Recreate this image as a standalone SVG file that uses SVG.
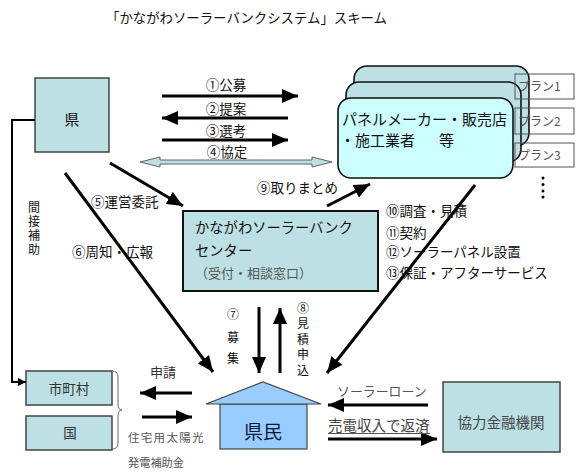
<svg xmlns="http://www.w3.org/2000/svg" width="584" height="474" viewBox="0 0 584 474">
<style>
text{font-family:"Noto Sans CJK JP","Noto Sans",sans-serif;fill:#111}
.teal{fill:#BCE0E4;stroke:#444;stroke-width:1.5}
.panel{fill:#BCE0E4;stroke:#111;stroke-width:1.6}
.arr{stroke:#000;stroke-width:3;fill:none;marker-end:url(#ah)}
.plan{fill:none;stroke:#555;stroke-width:1}
.pt{font-size:12px;fill:#555}
.lbl{font-size:13.5px}
.v{font-size:12px;writing-mode:vertical-rl}
</style>
<defs>
<marker id="ah" viewBox="0 0 16 14" refX="16" refY="7" markerWidth="16" markerHeight="14" markerUnits="userSpaceOnUse" orient="auto">
<path d="M0,0 L16,7 L0,14 z" fill="#000"/>
</marker>
<marker id="ahs" viewBox="0 0 8 8" refX="8" refY="4" markerWidth="8" markerHeight="8" markerUnits="userSpaceOnUse" orient="auto">
<path d="M0,0 L8,4 L0,8 z" fill="#000"/>
</marker>
</defs>

<text x="106" y="23" style="font-size:13.4px">「かながわソーラーバンクシステム」スキーム</text>

<g id="ken">
<rect x="35" y="78" width="74" height="74" class="teal"/>
<text x="72" y="125" text-anchor="middle" style="font-size:15px">県</text>
</g>

<g id="panel">
<rect x="354" y="66" width="175" height="80" rx="13" class="panel"/>
<rect x="346" y="82" width="175" height="80" rx="13" class="panel"/>
<rect x="338" y="98" width="175" height="80" rx="13" fill="#CCFFFF" stroke="#111" stroke-width="1.6"/>
<text x="342" y="125" style="font-size:15px">パネルメーカー・販売店</text>
<text x="340" y="146" style="font-size:15px">・施工業者</text>
<text x="439" y="146" style="font-size:15px">等</text>
</g>

<g id="plans">
<rect x="515" y="74" width="59" height="25" class="plan"/>
<text x="518" y="91" class="pt">プラン1</text>
<rect x="515" y="108" width="59" height="26" class="plan"/>
<text x="518" y="126" class="pt">プラン2</text>
<rect x="515" y="143" width="59" height="24" class="plan"/>
<text x="518" y="160" class="pt">プラン3</text>
<g fill="#000"><circle cx="543" cy="178" r="1.5"/><circle cx="543" cy="184.5" r="1.5"/><circle cx="543" cy="191" r="1.5"/><circle cx="543" cy="197" r="1.5"/></g>
</g>

<g id="center">
<rect x="183" y="211" width="195" height="80" fill="#BCE0E4" stroke="#111" stroke-width="2"/>
<text x="195" y="233" style="font-size:14.3px">かながわソーラーバンク</text>
<text x="195" y="256" style="font-size:14.3px">センター</text>
<text x="195" y="278" style="font-size:13px;fill:#555">（受付・相談窓口）</text>
</g>

<g id="kenmin">
<rect x="220" y="404" width="87" height="45" fill="#99CCFF" stroke="#444" stroke-width="1.2"/>
<polygon points="206,404 263,382 321,404" fill="#99CCFF" stroke="#444" stroke-width="1.2"/>
<text x="263" y="439" text-anchor="middle" style="font-size:19px;fill:#0a1a3a">県民</text>
</g>

<g id="shichoson">
<rect x="26" y="371" width="86" height="34" class="teal" stroke-width="1.2"/>
<text x="69" y="394" text-anchor="middle" style="font-size:13.5px;fill:#333">市町村</text>
</g>
<g id="kuni">
<rect x="26" y="416" width="86" height="34" class="teal" stroke-width="1.2"/>
<text x="70" y="438" text-anchor="middle" style="font-size:13.5px;fill:#333">国</text>
</g>

<g id="kinyu">
<rect x="443" y="382" width="117" height="70" class="teal" stroke-width="1.2"/>
<text x="501" y="428" text-anchor="middle" style="font-size:14.5px;fill:#444">協力金融機関</text>
</g>

<g id="connectors">
<line x1="162" y1="96" x2="298" y2="96" class="arr"/>
<line x1="288" y1="118" x2="162" y2="118" class="arr"/>
<line x1="162" y1="140" x2="288" y2="140" class="arr"/>
<polygon points="140,162 160,157 160,160 312,160 312,157 332,162 312,167 312,164 160,164 160,167" fill="#BCE0E4" stroke="#555" stroke-width="0.9"/>
<line x1="110" y1="163" x2="183" y2="206" class="arr"/>
<line x1="65" y1="173" x2="213" y2="372" class="arr"/>
<line x1="259" y1="307" x2="259" y2="373" class="arr"/>
<line x1="280" y1="373" x2="280" y2="308" class="arr"/>
<line x1="327" y1="206" x2="370" y2="184" class="arr"/>
<line x1="475" y1="185" x2="327" y2="373" class="arr"/>
<line x1="192" y1="393" x2="140" y2="393" class="arr"/>
<line x1="142" y1="417" x2="192" y2="417" class="arr"/>
<line x1="428" y1="405" x2="328" y2="405" class="arr"/>
<line x1="328" y1="439" x2="437" y2="439" class="arr"/>
<polyline points="35,120 12,120 12,382 26,382" fill="none" stroke="#000" stroke-width="2" marker-end="url(#ahs)"/>
<path d="M112,371 Q118,371 118,377 L118,404 Q118,410 122,410 Q118,410 118,416 L118,443 Q118,449 112,449" fill="none" stroke="#666" stroke-width="1"/>
</g>

<g id="labels">
<text x="226" y="90" text-anchor="middle" class="lbl">①公募</text>
<text x="226" y="114" text-anchor="middle" class="lbl">②提案</text>
<text x="226" y="136" text-anchor="middle" class="lbl">③選考</text>
<text x="227" y="157" text-anchor="middle" class="lbl">④協定</text>
<text x="91" y="207" class="lbl">⑤運営委託</text>
<text x="72" y="257" class="lbl">⑥周知・広報</text>
<text x="257" y="193" class="lbl">⑨取りまとめ</text>
<text x="386" y="216" class="lbl">⑩調査・見積</text>
<text x="386" y="238" class="lbl">⑪契約</text>
<text x="386" y="257" class="lbl">⑫ソーラーパネル設置</text>
<text x="386" y="278" class="lbl">⑬保証・アフターサービス</text>
<text x="34" y="201" class="v" style="letter-spacing:2.3px">間接補助</text>
<text x="233" y="319" text-anchor="middle" style="font-size:12px">⑦</text>
<text x="233" y="331" class="v" style="letter-spacing:9px">募集</text>
<text x="303" y="302" class="v" style="letter-spacing:3.5px">⑧見積申込</text>
<text x="150" y="377" style="font-size:13px;fill:#333">申請</text>
<text x="128" y="442" style="font-size:11.5px;fill:#555;letter-spacing:1.3px">住宅用太陽光</text>
<text x="128" y="467" style="font-size:11.2px;fill:#555">発電補助金</text>
<text x="337" y="396" style="font-size:12.9px;fill:#555">ソーラーローン</text>
<text x="328" y="431" style="font-size:14.5px;fill:#444">売電収入で返済</text>
<line x1="328" y1="433.5" x2="430" y2="433.5" stroke="#555" stroke-width="1"/>
</g>
</svg>
